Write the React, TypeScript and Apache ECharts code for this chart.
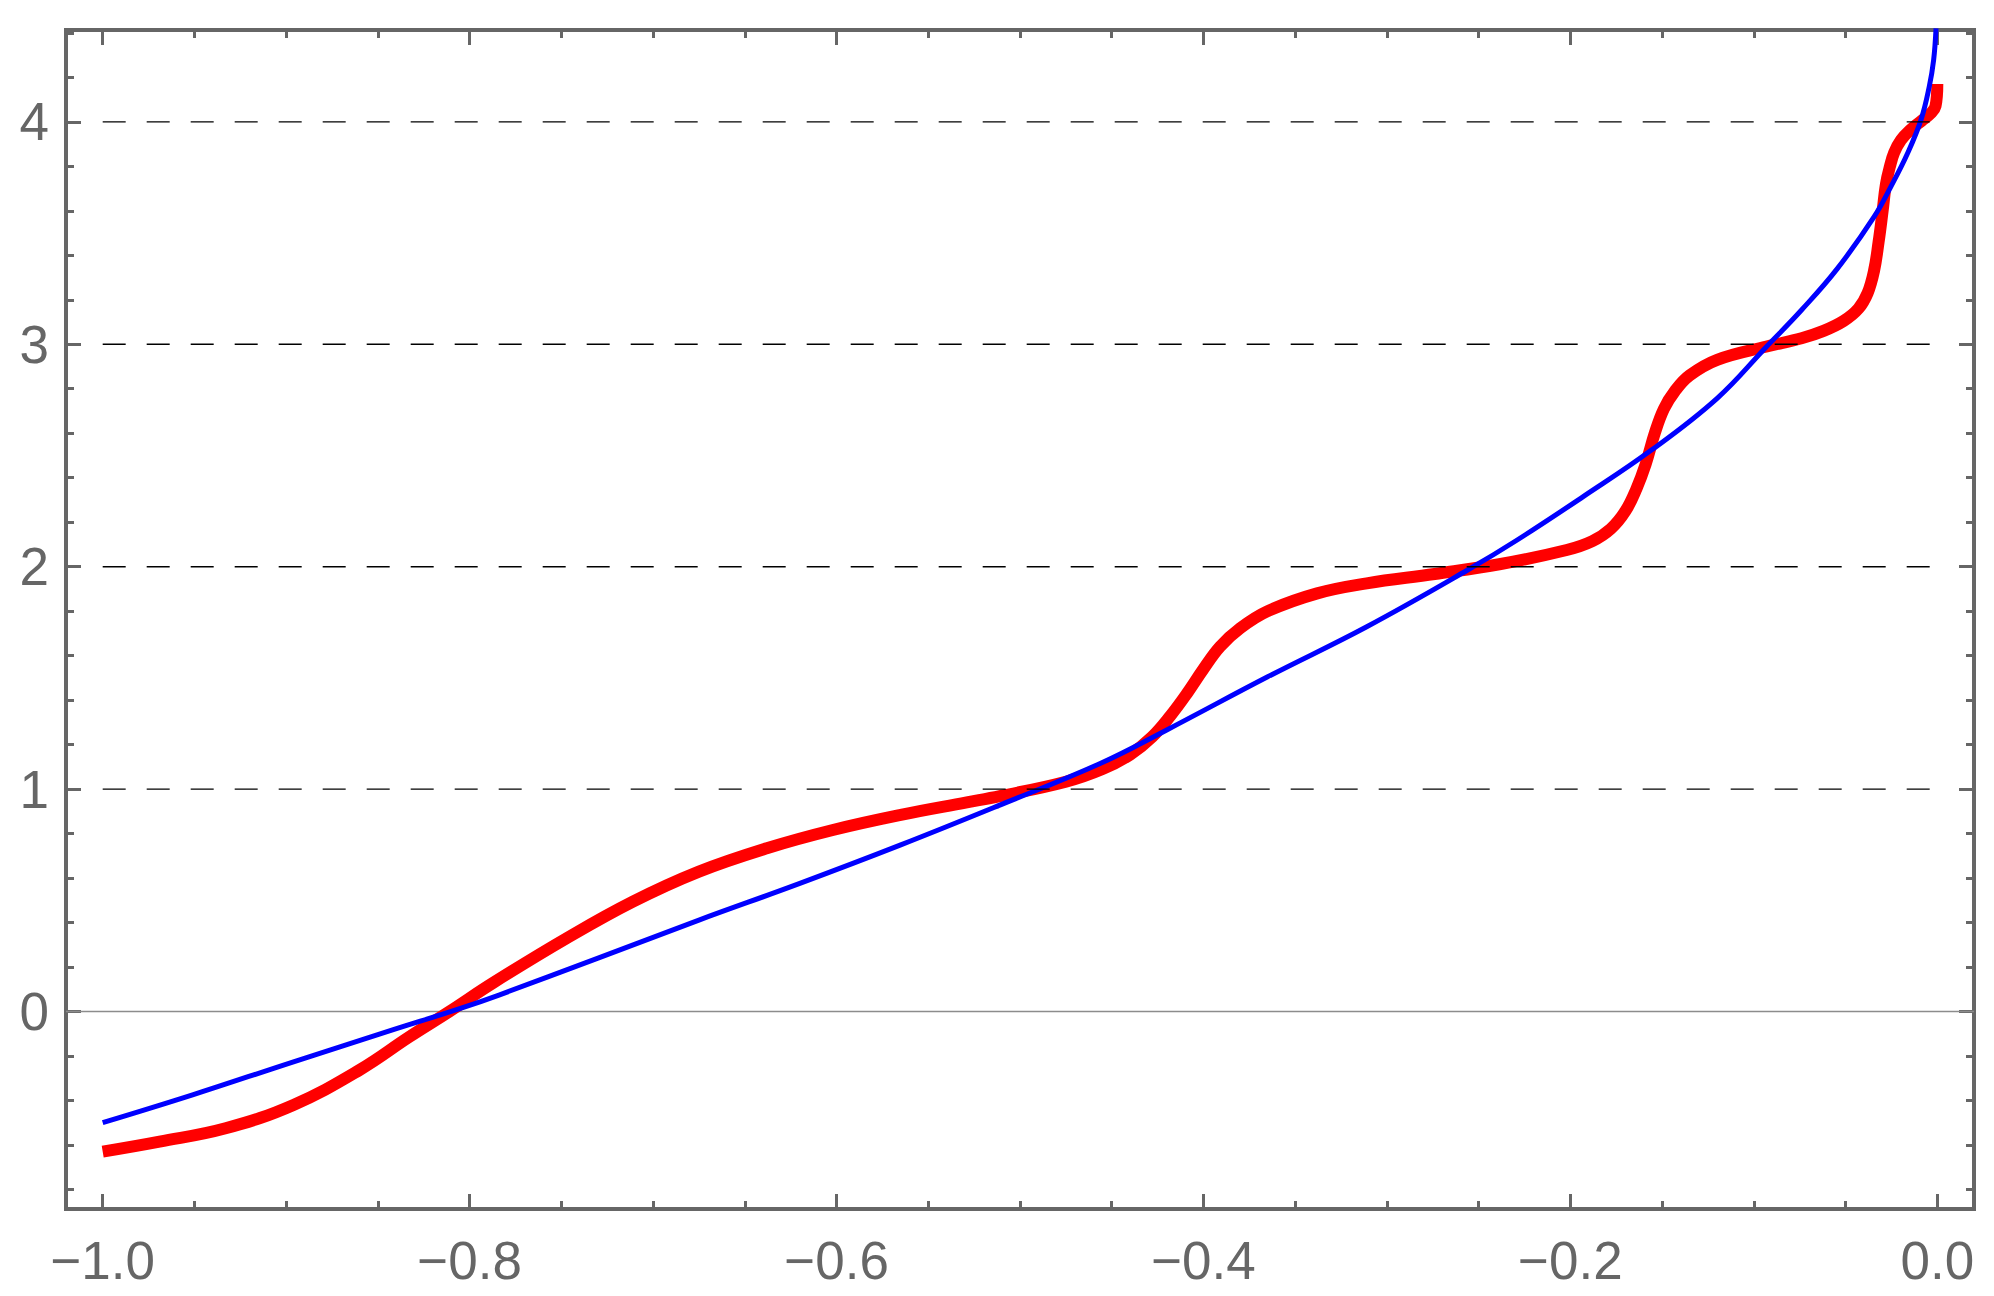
import React, { useEffect, useRef } from "react";
import * as echarts from "echarts";

// Axis ranges (plot range incl. padding)
const X_MIN = -1.02;
const X_MAX = 0.02;
const Y_MIN = -0.888;
const Y_MAX = 4.413;

// Tick values
const xMajorTicks = [-1.0, -0.8, -0.6, -0.4, -0.2, 0.0];
const xMinorTicks = [-0.95, -0.9, -0.85, -0.75, -0.7, -0.65, -0.55, -0.5, -0.45, -0.35, -0.3, -0.25, -0.15, -0.1, -0.05];
const yMajorTicks = [0, 1, 2, 3, 4];
const yMinorTicks = [-0.8, -0.6, -0.4, -0.2, 0.2, 0.4, 0.6, 0.8, 1.2, 1.4, 1.6, 1.8, 2.2, 2.4, 2.6, 2.8, 3.2, 3.4, 3.6, 3.8, 4.2, 4.4];

// Dashed reference levels, drawn from x = -1 to x = 0
const levelValues = [1, 2, 3, 4];
const levelXStart = -1;
const levelXEnd = 0;

// Red curve (x, y)
const redX = [-1.0, -0.969, -0.933, -0.896, -0.86, -0.833, -0.811, -0.787, -0.747, -0.711, -0.675, -0.638, -0.602, -0.565, -0.529, -0.511, -0.475, -0.455, -0.44, -0.428, -0.418, -0.409, -0.4, -0.391, -0.38, -0.365, -0.338, -0.311, -0.274, -0.238, -0.202, -0.188, -0.178, -0.17, -0.164, -0.159, -0.154, -0.149, -0.143, -0.135, -0.12, -0.093, -0.074, -0.062, -0.051, -0.043, -0.038, -0.0345, -0.032, -0.0298, -0.028, -0.0258, -0.0235, -0.0198, -0.0145, -0.0085, -0.0035, -0.001, 0.0];
const redY = [-0.63, -0.585, -0.525, -0.42, -0.263, -0.115, 0.0, 0.13, 0.33, 0.494, 0.629, 0.734, 0.816, 0.884, 0.94, 0.968, 1.033, 1.09, 1.155, 1.235, 1.33, 1.43, 1.54, 1.64, 1.723, 1.8, 1.88, 1.925, 1.967, 2.012, 2.075, 2.115, 2.17, 2.25, 2.35, 2.46, 2.6, 2.71, 2.79, 2.86, 2.93, 2.99, 3.027, 3.06, 3.105, 3.16, 3.23, 3.33, 3.46, 3.6, 3.72, 3.8, 3.862, 3.918, 3.965, 4.005, 4.039, 4.07, 4.17];

// Blue curve (x, y)
const blueX = [-1.0, -0.951, -0.896, -0.842, -0.805, -0.784, -0.73, -0.675, -0.62, -0.565, -0.511, -0.456, -0.42, -0.365, -0.311, -0.256, -0.229, -0.193, -0.156, -0.12, -0.093, -0.074, -0.0545, -0.0344, -0.0253, -0.0162, -0.0089, -0.0044, -0.002, -0.0007];
const blueY = [-0.5, -0.375, -0.226, -0.083, 0.014, 0.074, 0.24, 0.411, 0.576, 0.749, 0.928, 1.116, 1.266, 1.505, 1.73, 1.985, 2.12, 2.315, 2.523, 2.757, 2.99, 3.154, 3.34, 3.574, 3.709, 3.859, 4.009, 4.158, 4.278, 4.42];

const GRAY = "#666666";
const FONT = "'Liberation Sans', Arial, Helvetica, sans-serif";
const FONT_SIZE = 53;

const fmtX = (v: number) => {
  const s = Math.abs(v).toFixed(1);
  return v < -1e-9 ? "\u2212" + s : s;
};

export default function App() {
  const ref = useRef<HTMLDivElement>(null);

  useEffect(() => {
    document.body.style.margin = "0";
    if (!ref.current) return;
    const chart = echarts.init(ref.current, undefined, { renderer: "svg" });

    const gridRect = { left: 66, top: 30, width: 1908, height: 1179 };

    const xAxisBase = (gridIndex: number, position: string) => ({
      type: "value",
      gridIndex,
      position,
      min: X_MIN,
      max: X_MAX,
      axisLine: { show: false, onZero: false },
      splitLine: { show: false },
    });
    const yAxisBase = (gridIndex: number, position: string) => ({
      type: "value",
      gridIndex,
      position,
      min: Y_MIN,
      max: Y_MAX,
      axisLine: { show: false, onZero: false },
      splitLine: { show: false },
    });

    const tick = (values: number[], length: number) => ({
      show: true,
      inside: true,
      length,
      customValues: values,
      lineStyle: { color: GRAY, width: 3 },
    });

    const option: any = {
      animation: false,
      backgroundColor: "#ffffff",
      grid: [
        { ...gridRect, show: true, borderColor: GRAY, borderWidth: 4, backgroundColor: "transparent" },
        { ...gridRect, show: false },
      ],
      xAxis: [
        {
          ...xAxisBase(0, "bottom"),
          axisTick: tick(xMajorTicks, 15),
          axisLabel: {
            show: true,
            customValues: xMajorTicks,
            formatter: fmtX,
            color: GRAY,
            fontSize: FONT_SIZE,
            fontFamily: FONT,
            margin: 25,
          },
        },
        {
          ...xAxisBase(0, "top"),
          axisTick: tick(xMajorTicks, 15),
          axisLabel: { show: false },
        },
        {
          ...xAxisBase(1, "bottom"),
          axisTick: tick(xMinorTicks, 8),
          axisLabel: { show: false },
        },
        {
          ...xAxisBase(1, "top"),
          axisTick: tick(xMinorTicks, 8),
          axisLabel: { show: false },
        },
      ],
      yAxis: [
        {
          ...yAxisBase(0, "left"),
          axisTick: tick(yMajorTicks, 15),
          axisLabel: {
            show: true,
            customValues: yMajorTicks,
            formatter: (v: number) => String(Math.round(v)),
            color: GRAY,
            fontSize: FONT_SIZE,
            fontFamily: FONT,
            margin: 17,
          },
        },
        {
          ...yAxisBase(0, "right"),
          axisTick: tick(yMajorTicks, 15),
          axisLabel: { show: false },
        },
        {
          ...yAxisBase(1, "left"),
          axisTick: tick(yMinorTicks, 8),
          axisLabel: { show: false },
        },
        {
          ...yAxisBase(1, "right"),
          axisTick: tick(yMinorTicks, 8),
          axisLabel: { show: false },
        },
      ],
      series: [
        {
          name: "zero axis",
          type: "line",
          xAxisIndex: 0,
          yAxisIndex: 0,
          data: [
            [X_MIN, 0],
            [X_MAX, 0],
          ],
          symbol: "none",
          silent: true,
          lineStyle: { color: "#8c8c8c", width: 1.4 },
          z: 1,
        },
        {
          name: "red",
          type: "line",
          xAxisIndex: 0,
          yAxisIndex: 0,
          data: redX.map((x, i) => [x, redY[i]]),
          symbol: "none",
          smooth: 0.4,
          lineStyle: { color: "#ff0000", width: 12, cap: "butt", join: "round" },
          z: 3,
        },
        {
          name: "blue",
          type: "line",
          xAxisIndex: 0,
          yAxisIndex: 0,
          data: blueX.map((x, i) => [x, blueY[i]]),
          symbol: "none",
          smooth: 0.4,
          lineStyle: { color: "#0000ff", width: 5, cap: "butt", join: "round" },
          z: 4,
        },
        ...levelValues.map((lv) => ({
          name: "level " + lv,
          type: "line",
          xAxisIndex: 0,
          yAxisIndex: 0,
          data: [
            [levelXStart, lv],
            [levelXEnd, lv],
          ],
          symbol: "none",
          silent: true,
          lineStyle: { color: "#000000", width: 1.4, type: [23, 21] },
          z: 5,
        })),
      ],
    };

    chart.setOption(option);
    return () => {
      chart.dispose();
    };
  }, []);

  return <div ref={ref} style={{ width: 1994, height: 1296 }} />;
}
